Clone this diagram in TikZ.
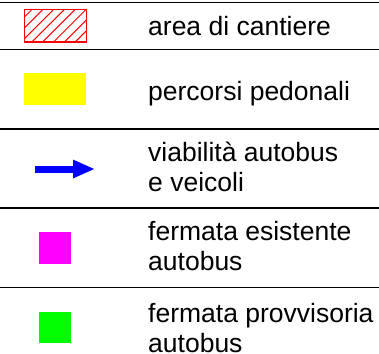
\documentclass[tikz,border=0pt]{standalone}
\usepackage{fontspec}
\setmainfont{Liberation Sans}
\usetikzlibrary{arrows.meta}
\definecolor{cantierered}{RGB}{255,0,0}
\definecolor{pedyellow}{RGB}{255,255,0}
\definecolor{busblue}{RGB}{0,0,255}
\definecolor{stopmagenta}{RGB}{255,0,255}
\definecolor{stopgreen}{RGB}{0,255,0}
\tikzset{
	sepline/.style={black, line width=1.6pt},
	hatchline/.style={cantierered, line width=1pt},
	lbl/.style={anchor=base west, inner sep=0pt, align=left, font=\fontsize{26.5}{30}\selectfont}
}
\begin{document}
\begin{tikzpicture}[x=1pt, y=-1pt]
                \useasboundingbox (0,0) rectangle (379,353);
                \foreach \y in {2.5,49.5,129,208,287.5}
                    \draw[sepline] (0,\y) -- (379,\y);
                \begin{scope}
                    \clip (24,10) rectangle (86,42);
                    \foreach \k in {0,...,7}
                        \draw[hatchline] ({31.5+10.8*\k},10) -- ({-0.5+10.8*\k},42);
                \end{scope}
                \draw[hatchline] (24,10) rectangle (86,42);
                \fill[pedyellow] (24,73) rectangle (86,105);
                \coordinate (busfrom) at (35,169);
                \coordinate (busto) at (95,169);
                \draw[busblue, line width=7pt, -{Triangle[length=22pt,width=17pt]}] (busfrom) -- (busto);
                \fill[stopmagenta] (39,232) rectangle (71,264);
                \fill[stopgreen] (39,312) rectangle (71,343);
                \node[lbl] (cantiere) at (148,35) {area di cantiere};
                \node[lbl] (pedonali) at (148,100) {percorsi pedonali};
                \node[lbl] (viabilita) at (148,191) {viabilità autobus\\e veicoli};
                \node[lbl] (esistente) at (148,270) {fermata esistente\\autobus};
                \node[lbl] (provvisoria) at (148,352) {fermata provvisoria\\autobus};
            \end{tikzpicture}
\end{document}
